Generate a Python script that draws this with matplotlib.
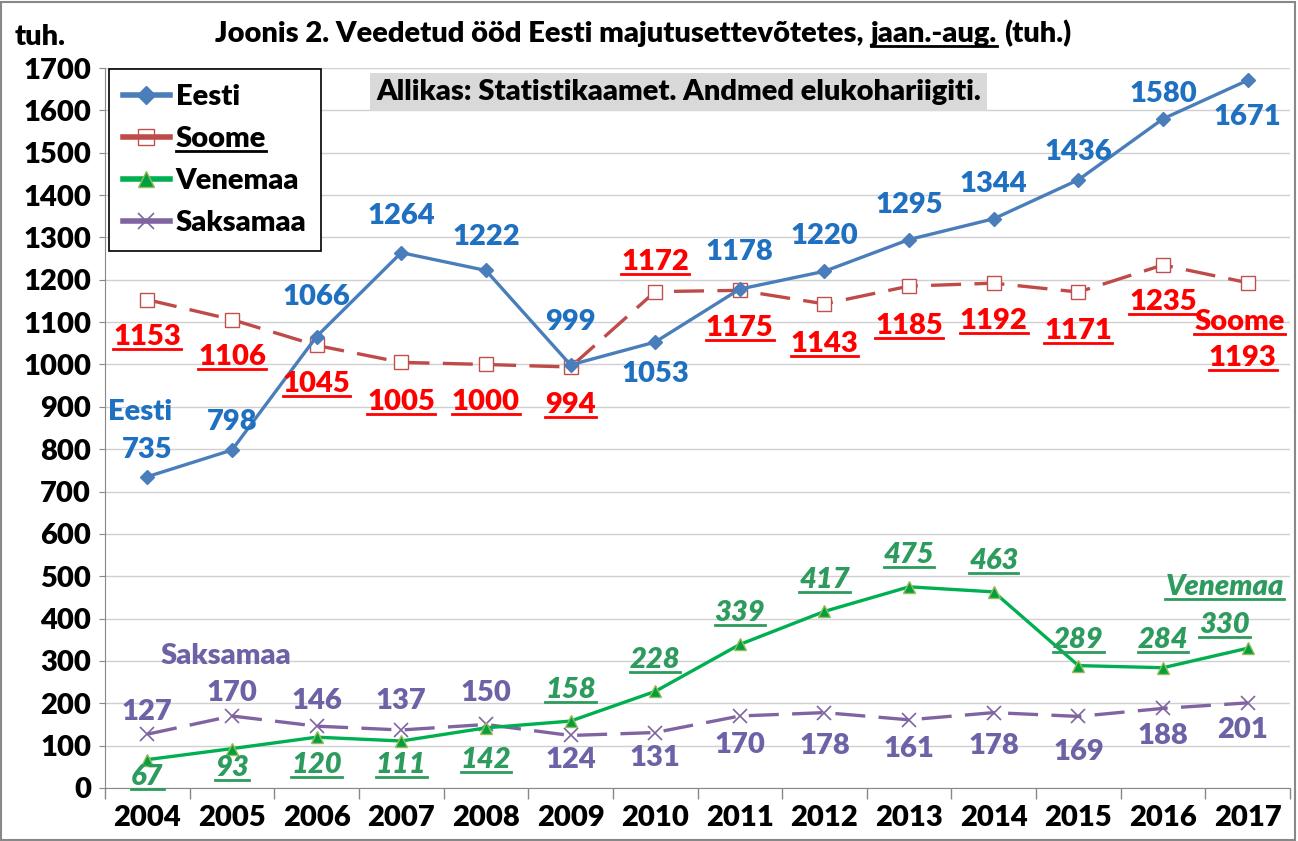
import matplotlib
matplotlib.use("Agg")
import matplotlib.pyplot as plt
from matplotlib.lines import Line2D
import numpy as np

plt.rcParams['font.family'] = ['Lato', 'DejaVu Sans']
plt.rcParams['font.weight'] = 'heavy'

years = [2004, 2005, 2006, 2007, 2008, 2009, 2010, 2011, 2012, 2013, 2014, 2015, 2016, 2017]
eesti = [735, 798, 1066, 1264, 1222, 999, 1053, 1178, 1220, 1295, 1344, 1436, 1580, 1671]
soome = [1153, 1106, 1045, 1005, 1000, 994, 1172, 1175, 1143, 1185, 1192, 1171, 1235, 1193]
venemaa = [67, 93, 120, 111, 142, 158, 228, 339, 417, 475, 463, 289, 284, 330]
saksamaa = [127, 170, 146, 137, 150, 124, 131, 170, 178, 161, 178, 169, 188, 201]

# label offsets in pixels (dx, dy), positive dy = up
eesti_off = [(0, 27), (0, 28), (0, 40), (0, 37), (0, 33), (0, 43), (0, -32), (0, 37), (0, 35), (0, 35), (0, 35), (0, 28), (0, 25), (0, -37)]
soome_off = [(0, -37), (0, -37), (0, -39), (0, -40), (0, -38), (0, -38), (0, 30), (0, -38), (0, -40), (0, -40), (0, -38), (0, -39), (0, -37), (-5, -75)]
ven_off = [(0, -17), (0, -19), (0, -28), (0, -24), (0, -32), (0, 31), (0, 31), (0, 31), (0, 31), (0, 32), (0, 31), (0, 26), (0, 28), (-23, 23)]
sak_off = [(0, 22), (0, 23), (0, 25), (0, 29), (0, 31), (0, -25), (0, -25), (0, -29), (0, -33), (0, -29), (0, -33), (0, -36), (0, -28), (-5, -27)]

FS = 21

c_eesti_line = '#4A7EBB'
c_eesti_txt = '#1F70C1'
c_soome_line = '#BE4B48'
c_soome_txt = '#FF0000'
c_ven_line = '#00B050'
c_ven_txt = '#2E9B5E'
c_sak_line = '#8064A2'
c_sak_txt = '#6B63A6'

fig = plt.figure(figsize=(12.98, 8.41), dpi=100)
W, H = 1298, 841
ax = fig.add_axes([105 / W, 1 - 788 / H, (1290 - 105) / W, (788 - 68) / H])

x = np.arange(len(years))
ax.plot(x, eesti, color=c_eesti_line, lw=2.4, marker='D', ms=7, mfc=c_eesti_line, mec=c_eesti_line, label='Eesti', zorder=4)
ax.plot(x, soome, color=c_soome_line, lw=2.4, dashes=(9, 4), marker='s', ms=10, mfc='white', mec='#C0504D', mew=1, label='Soome', zorder=3)
ax.plot(x, venemaa, color=c_ven_line, lw=2.4, marker='^', ms=9, mfc='#00A040', mec='#9BBB59', mew=1, label='Venemaa', zorder=4)
ax.plot(x, saksamaa, color=c_sak_line, lw=2.4, dashes=(9, 4), marker='x', ms=10, mec='#8064A2', mew=1.2, label='Saksamaa', zorder=3)

ax.set_xlim(-0.5, len(years) - 0.5)
ax.set_ylim(0, 1700)
ax.set_yticks(np.arange(0, 1701, 100))
ax.set_xticks(x)
ax.set_xticklabels([str(y) for y in years])
ax.set_xticks(np.arange(-0.5, len(years), 1), minor=True)
ax.tick_params(axis='x', which='major', length=0, pad=12, labelsize=FS)
ax.tick_params(axis='x', which='minor', length=8, color='#888888', width=1)
ax.tick_params(axis='y', length=4, color='#888888', pad=6, labelsize=FS)
ax.grid(axis='y', color='#D0D0D0', lw=1)
ax.set_axisbelow(True)
for s in ['top', 'right']:
    ax.spines[s].set_visible(False)
for s in ['left', 'bottom']:
    ax.spines[s].set_color('#888888')

underlined = []


def label_series(vals, offs, color, style='normal', under=False):
    for i, v in enumerate(vals):
        t = ax.annotate(str(v), (x[i], v), xytext=offs[i], textcoords='offset pixels',
                        ha='center', va='center', color=color, fontsize=FS,
                        fontstyle=style, zorder=6)
        if under:
            underlined.append(t)


label_series(eesti, eesti_off, c_eesti_txt)
label_series(soome, soome_off, c_soome_txt, under=True)
label_series(venemaa, ven_off, c_ven_txt, style='italic', under=True)
label_series(saksamaa, sak_off, c_sak_txt)

# series names on the chart
ax.annotate('Eesti', (0, eesti[0]), xytext=(-7, 65), textcoords='offset pixels', ha='center', va='center',
            color=c_eesti_txt, fontsize=FS)
underlined.append(ax.annotate('Soome', (13, soome[-1]), xytext=(-8, -39), textcoords='offset pixels', ha='center',
                              va='center', color=c_soome_txt, fontsize=FS))
underlined.append(ax.annotate('Venemaa', (13, venemaa[-1]), xytext=(-23, 61), textcoords='offset pixels', ha='center',
                              va='center', color=c_ven_txt, fontsize=FS, fontstyle='italic'))
ax.annotate('Saksamaa', (1, saksamaa[1]), xytext=(-6, 60), textcoords='offset pixels', ha='center', va='center',
            color=c_sak_txt, fontsize=FS)

# source box
fig.text(376 / W, 1 - 92 / H, 'Allikas: Statistikaamet. Andmed elukohariigiti.',
         ha='left', va='center', fontsize=21, color='black',
         bbox=dict(boxstyle='square,pad=0.2', fc='#D9D9D9', ec='none'))

handles = [Line2D([], [], color=c_eesti_line, lw=4, marker='D', ms=9, mfc=c_eesti_line, mec=c_eesti_line),
           Line2D([], [], color=c_soome_line, lw=4, marker='s', ms=11, mfc='none', mec='#C0504D', mew=1),
           Line2D([], [], color=c_ven_line, lw=4, marker='^', ms=11, mfc='#00A040', mec='#9BBB59', mew=1),
           Line2D([], [], color=c_sak_line, lw=4, marker='x', ms=12, mec='#8064A2', mew=1.2)]
leg = ax.legend(handles, ['Eesti', 'Soome', 'Venemaa', 'Saksamaa'], loc='upper left',
                bbox_to_anchor=(0.003, 0.998), borderaxespad=0, fontsize=FS, frameon=True, fancybox=False,
                edgecolor='black', framealpha=1, handlelength=1.6, labelspacing=0.55, borderpad=0.5,
                handletextpad=0.2)
leg.get_frame().set_linewidth(1.2)

# title pieces
fig.text(40 / W, 1 - 37 / H, 'tuh.', ha='center', va='center', fontsize=FS)
parts = ['Joonis 2. Veedetud ööd Eesti majutusettevõtetes,', 'jaan.-aug.', '(tuh.)']
ty = 1 - 42 / H
tparts = [fig.text(215 / W, ty, p, ha='left', va='baseline', fontsize=FS) for p in parts]

fig.canvas.draw()
r = fig.canvas.get_renderer()
xpos = 215
for t in tparts:
    t.set_x(xpos / W)
    bb = t.get_window_extent(r)
    xpos = xpos + bb.width + 7
underlined.append(tparts[1])
for t in leg.get_texts():
    if t.get_text() == 'Soome':
        underlined.append(t)

fig.canvas.draw()
r = fig.canvas.get_renderer()
for t in underlined:
    bb = t.get_window_extent(r)
    yline = bb.y0 + 1
    fig.add_artist(Line2D([bb.x0 / W, bb.x1 / W], [yline / H, yline / H], transform=fig.transFigure,
                          color=t.get_color(), lw=2))

# outer border
fig.add_artist(plt.Rectangle((0.001, 0.001), 0.997, 0.997, transform=fig.transFigure, fill=False,
                             ec='#888888', lw=1.5))

fig.savefig('out.png', dpi=100)
